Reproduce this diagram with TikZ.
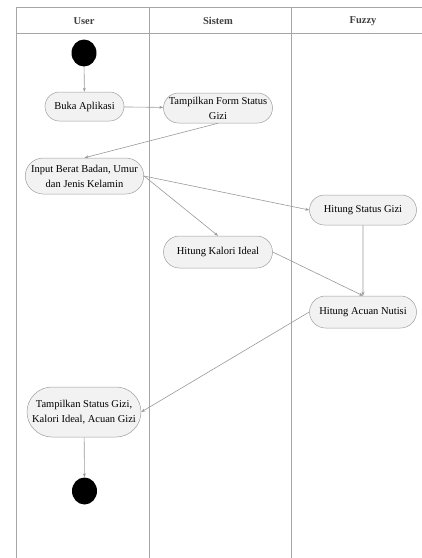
\documentclass[tikz,border=0pt]{standalone}
\usepackage{fontspec}
\setmainfont{Liberation Serif}
\usetikzlibrary{shapes.misc,shapes.geometric,arrows.meta}

\def\Ux{84}
\def\Sx{218}
\def\Fx{363}

\begin{document}
\begin{tikzpicture}[x=1pt, y=-1pt,
    lane/.style={draw=gray!70, line width=0.6pt},
    act/.style={rounded rectangle, draw=gray!75, fill=gray!10, line width=0.5pt,
        align=center, inner sep=2pt, font=\fontsize{10.5}{15}\selectfont},
    dot/.style={ellipse, fill=black, minimum width=25pt, minimum height=27pt, inner sep=0pt},
    flow/.style={draw=gray!80, line width=0.6pt, -{Stealth[length=4pt,width=3pt]}},
    head/.style={font=\bfseries\fontsize{10.5}{12}\selectfont, text=black!75}]
    \useasboundingbox (0,0) rectangle (422,558);

    % swimlanes
    \draw[lane] (16,558) -- (16,7) -- (422,7);
    \draw[lane] (16,33) -- (422,33);
    \draw[lane] (149,7) -- (149,558);
    \draw[lane] (291,7) -- (291,558);
    \node[head] (hU) at (\Ux,21) {User};
    \node[head] (hS) at (\Sx,21) {Sistem};
    \node[head] (hF) at (\Fx,21) {Fuzzy};

    \node[dot] (start) at (\Ux,53) {};
    \node[act, minimum width=83pt, minimum height=29pt] (buka) at (84.5,106.5) {Buka Aplikasi};
    \node[act, minimum width=113pt, minimum height=30pt] (form) at (\Sx,108) {Tampilkan Form Status\\Gizi};
    \node[act, minimum width=109pt, minimum height=36pt] (input) at (84.5,176) {Input Berat Badan, Umur\\dan Jenis Kelamin};
    \node[act, minimum width=111pt, minimum height=30pt] (status) at (\Fx,210) {Hitung Status Gizi};
    \node[act, minimum width=113pt, minimum height=32pt] (kalori) at (\Sx,252) {Hitung Kalori Ideal};
    \node[act, minimum width=111pt, minimum height=32pt] (acuan) at (\Fx,312) {Hitung Acuan Nutisi};
    \node[act, minimum width=118pt, minimum height=50pt] (hasil) at (\Ux,412) {Tampilkan Status Gizi,\\Kalori Ideal, Acuan Gizi};
    \node[dot] (end) at (84.5,491) {};

    \draw[flow] (start) -- (buka);
    \draw[flow] (buka) -- (form);
    \draw[flow] (form.south) -- (input.north);
    \draw[flow] (input.east) -- (status.west);
    \draw[flow] (input.east) -- (kalori.north);
    \draw[flow] (status) -- (acuan);
    \draw[flow] (kalori.east) -- (acuan.north);
    \draw[flow] (acuan.west) -- (hasil.east);
    \draw[flow] (hasil) -- (end);
\end{tikzpicture}
\end{document}
